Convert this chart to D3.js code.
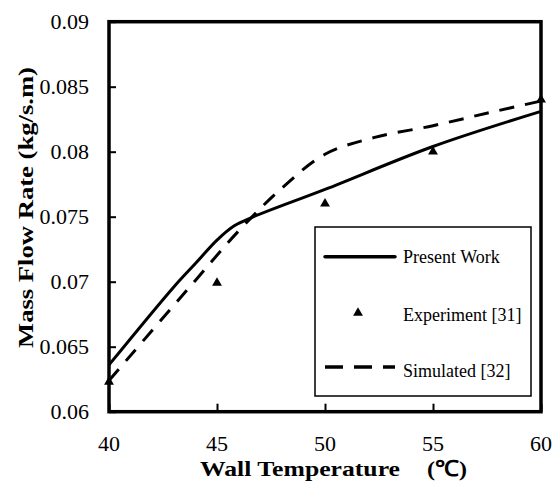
<!DOCTYPE html>
<html>
<head>
<meta charset="utf-8">
<script src="https://cdn.jsdelivr.net/npm/d3@7"></script>
<style>
  html, body { margin: 0; padding: 0; background: #fff; }
  svg { display: block; }
  text { font-family: "Liberation Serif", "Times New Roman", serif; fill: #000; }
</style>
</head>
<body>
<svg id="chart" width="559" height="481"></svg>
<script>
// ---- data ----
const presentX = [40, 43, 44, 45, 45.8, 46.7, 50, 55, 60];
const presentY = [0.0636, 0.0696, 0.0714, 0.0732, 0.0743, 0.0750, 0.0771, 0.0804, 0.0831];

const simX = [40, 44, 46, 48, 50, 52.3, 55, 57.6, 60];
const simY = [0.0624, 0.0701, 0.0739, 0.0772, 0.0798, 0.0811, 0.0820, 0.0830, 0.0839];

const expX = [40, 45, 50, 55, 60];
const expY = [0.0623, 0.0699, 0.0760, 0.0800, 0.0840];

const xTicks = [40, 45, 50, 55, 60];
const yTicks = [0.06, 0.065, 0.07, 0.075, 0.08, 0.085, 0.09];
const yTickLabels = ["0.06", "0.065", "0.07", "0.075", "0.08", "0.085", "0.09"];

const legendLabels = ["Present Work", "Experiment [31]", "Simulated [32]"];
const xTitle = "Wall Temperature";
const xUnit = "(\u2103)";
const yTitle = "Mass Flow Rate (kg/s.m)";

// ---- layout ----
const svg = d3.select("#chart");
const L = 109, R = 541, T = 21.7, B = 411.7;
const x = d3.scaleLinear().domain([40, 60]).range([L, R]);
const y = d3.scaleLinear().domain([0.06, 0.09]).range([B, T]);

// ticks (inward)
const xAxis = d3.axisTop(x).tickValues(xTicks).tickSize(8).tickFormat("");
svg.append("g").attr("transform", `translate(0,${B})`).call(xAxis)
  .call(g => g.select(".domain").remove())
  .call(g => g.selectAll("line").attr("stroke", "#000").attr("stroke-width", 2));

const yAxis = d3.axisRight(y).tickValues(yTicks).tickSize(7).tickFormat("");
svg.append("g").attr("transform", `translate(${L},0)`).call(yAxis)
  .call(g => g.select(".domain").remove())
  .call(g => g.selectAll("line").attr("stroke", "#000").attr("stroke-width", 2));

// tick labels
svg.append("g").selectAll("text").data(xTicks).join("text")
  .attr("x", d => x(d)).attr("y", 451)
  .attr("text-anchor", "middle").attr("font-size", 22)
  .text(d => d);

svg.append("g").selectAll("text").data(yTicks).join("text")
  .attr("x", 89).attr("y", d => y(d) + 7.5)
  .attr("text-anchor", "end").attr("font-size", 22)
  .text((d, i) => yTickLabels[i]);

// axis titles
svg.append("text").attr("x", 200).attr("y", 476)
  .attr("font-size", 22).attr("font-weight", "bold")
  .attr("textLength", 200).attr("lengthAdjust", "spacingAndGlyphs")
  .text(xTitle);
svg.append("text").attr("x", 427).attr("y", 476)
  .attr("font-size", 22).attr("font-weight", "bold")
  .attr("textLength", 40).attr("lengthAdjust", "spacingAndGlyphs")
  .text(xUnit);

svg.append("text")
  .attr("transform", "translate(33,348) rotate(-90)")
  .attr("x", 0).attr("y", 0)
  .attr("font-size", 22).attr("font-weight", "bold")
  .attr("textLength", 281).attr("lengthAdjust", "spacingAndGlyphs")
  .text(yTitle);

// series
const line = d3.line().curve(d3.curveCatmullRom.alpha(0.5));

svg.append("path")
  .attr("d", line(presentX.map((d, i) => [x(d), y(presentY[i])])))
  .attr("fill", "none").attr("stroke", "#000").attr("stroke-width", 3);

svg.append("path")
  .attr("d", line(simX.map((d, i) => [x(d), y(simY[i])])))
  .attr("fill", "none").attr("stroke", "#000").attr("stroke-width", 3)
  .attr("stroke-dasharray", "15,11");

const tri = d3.symbol().type(d3.symbolTriangle).size(42);
svg.append("g").selectAll("path").data(expX).join("path")
  .attr("transform", (d, i) => `translate(${x(d)},${y(expY[i])})`)
  .attr("d", tri).attr("fill", "#000");

// frame
svg.append("rect").attr("x", L).attr("y", T).attr("width", R - L).attr("height", B - T)
  .attr("fill", "none").attr("stroke", "#000").attr("stroke-width", 3.5);

// legend
const lg = svg.append("g");
lg.append("rect").attr("x", 315).attr("y", 227).attr("width", 216).attr("height", 169)
  .attr("fill", "#fff").attr("stroke", "#000").attr("stroke-width", 1.5);
lg.append("line").attr("x1", 325).attr("x2", 395).attr("y1", 256.7).attr("y2", 256.7)
  .attr("stroke", "#000").attr("stroke-width", 3.5).attr("stroke-linecap", "round");
lg.append("path").attr("transform", "translate(358,313)").attr("d", tri).attr("fill", "#000");
lg.append("line").attr("x1", 325).attr("x2", 395).attr("y1", 367).attr("y2", 367)
  .attr("stroke", "#000").attr("stroke-width", 3.5).attr("stroke-dasharray", "18,11");
const ly = [263.3, 320.7, 376.7];
lg.selectAll("text.leg").data(legendLabels).join("text").attr("class", "leg")
  .attr("x", 403).attr("y", (d, i) => ly[i]).attr("font-size", 18)
  .text(d => d);
</script>
</body>
</html>
